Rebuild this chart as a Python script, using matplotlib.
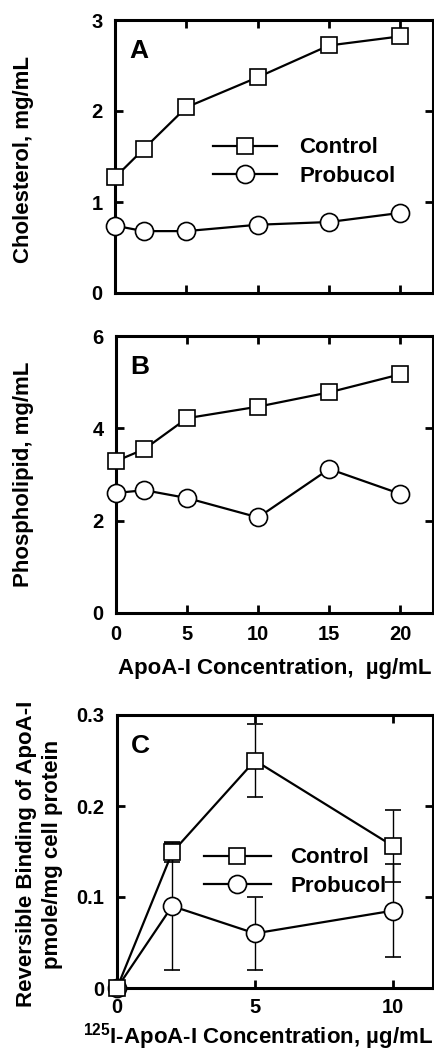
import matplotlib
matplotlib.use("Agg")
import matplotlib.pyplot as plt
from matplotlib.lines import Line2D

plt.rcParams['font.family'] = ['Liberation Sans', 'DejaVu Sans']
plt.rcParams['font.weight'] = 'bold'
plt.rcParams['mathtext.fontset'] = 'custom'
plt.rcParams['mathtext.rm'] = 'Liberation Sans:bold'

# panel A - cholesterol
conc_ab = [0, 2, 5, 10, 15, 20]
chol_control = [1.27, 1.58, 2.04, 2.37, 2.72, 2.82]
chol_probucol = [0.74, 0.68, 0.68, 0.75, 0.78, 0.88]

# panel B - phospholipid
pl_control = [3.29, 3.55, 4.22, 4.47, 4.78, 5.17]
pl_probucol = [2.60, 2.66, 2.49, 2.07, 3.12, 2.58]

# panel C - reversible binding
conc_c = [0, 2, 5, 10]
bind_control = [0.0, 0.149, 0.25, 0.156]
bind_control_err = [0.0, 0.01, 0.04, 0.04]
bind_probucol = [0.0, 0.09, 0.06, 0.085]
bind_probucol_err = [0.0, 0.07, 0.04, 0.051]

W, H = 435, 1052
fig = plt.figure(figsize=(W / 100, H / 100), dpi=100)


def box(left, top, right, bottom):
    return [left / W, 1 - bottom / H, (right - left) / W, (bottom - top) / H]


axA = fig.add_axes(box(115, 20, 433, 293))
axB = fig.add_axes(box(116, 336, 433, 613))
axC = fig.add_axes(box(117, 715, 433, 988))

lw = 1.6
ms = 12
sq = dict(marker='s', color='black', mfc='white', mec='black', mew=1.2, ms=ms, lw=lw)
ci = dict(marker='o', color='black', mfc='white', mec='black', mew=1.2, ms=ms + 1, lw=lw)

axA.plot(conc_ab, chol_probucol, zorder=3, clip_on=False, **ci)
axA.plot(conc_ab, chol_control, zorder=4, clip_on=False, **sq)
axB.plot(conc_ab, pl_probucol, zorder=3, clip_on=False, **ci)
axB.plot(conc_ab, pl_control, zorder=4, clip_on=False, **sq)

axC.errorbar(conc_c, bind_probucol, yerr=bind_probucol_err, capsize=5.5, elinewidth=1.0,
             capthick=1.0, ecolor='black', zorder=3, clip_on=False, **ci)
axC.errorbar(conc_c, bind_control, yerr=bind_control_err, capsize=5.5, elinewidth=1.0,
             capthick=1.0, ecolor='black', zorder=4, clip_on=False, **sq)

for ax in (axA, axB, axC):
    for s in ax.spines.values():
        s.set_linewidth(2.2)
    ax.tick_params(direction='in', length=6, width=2, top=True, right=True,
                   labelsize=14.5, pad=9)

axA.set_xlim(0, 22.3)
axA.set_ylim(0, 3)
axA.set_xticks([0, 5, 10, 15, 20])
axA.set_yticks([0, 1, 2, 3])
axA.set_yticklabels(['0', '1', '2', '3'])
axA.tick_params(labelbottom=False)
axA.set_ylabel('Cholesterol, mg/mL', fontsize=16, fontweight='bold')
axA.yaxis.set_label_coords(-0.255, 0.49)
axA.text(0.045, 0.93, 'A', transform=axA.transAxes, fontsize=19, fontweight='bold', va='top')

axB.set_xlim(0, 22.3)
axB.set_ylim(0, 6)
axB.set_xticks([0, 5, 10, 15, 20])
axB.set_xticklabels(['0', '5', '10', '15', '20'])
axB.set_yticks([0, 2, 4, 6])
axB.set_yticklabels(['0', '2', '4', '6'])
axB.set_ylabel('Phospholipid, mg/mL', fontsize=16, fontweight='bold')
axB.yaxis.set_label_coords(-0.259, 0.5)
axB.set_xlabel('ApoA-I Concentration,  \u00b5g/mL', fontsize=16, fontweight='bold', labelpad=10)
axB.text(0.045, 0.93, 'B', transform=axB.transAxes, fontsize=19, fontweight='bold', va='top')

axC.set_xlim(0, 11.45)
axC.set_ylim(0, 0.3)
axC.set_xticks([0, 5, 10])
axC.set_xticklabels(['0', '5', '10'])
axC.tick_params(axis='x', pad=7)
axC.set_yticks([0, 0.1, 0.2, 0.3])
axC.set_yticklabels(['0', '0.1', '0.2', '0.3'])
axC.set_ylabel('Reversible Binding of ApoA-I\npmole/mg cell protein', fontsize=16,
               fontweight='bold', linespacing=1.3)
axC.yaxis.set_label_coords(-0.171, 0.49)
axC.set_xlabel('$^{125}$I-ApoA-I Concentration, \u00b5g/mL', fontsize=16,
               fontweight='bold', ha='right')
axC.xaxis.set_label_coords(1.0, -0.12)
axC.text(0.045, 0.93, 'C', transform=axC.transAxes, fontsize=19, fontweight='bold', va='top')

handles = [Line2D([], [], **sq), Line2D([], [], **ci)]
axA.legend(handles, ['Control', 'Probucol'], loc='upper left', bbox_to_anchor=(0.308, 0.57),
           frameon=False, borderpad=0, borderaxespad=0, handlelength=2.9, handletextpad=1.0,
           labelspacing=0.35, prop={'weight': 'bold', 'size': 16})
axC.legend(handles, ['Control', 'Probucol'], loc='upper left', bbox_to_anchor=(0.275, 0.515),
           frameon=False, borderpad=0, borderaxespad=0, handlelength=3.0, handletextpad=0.9,
           labelspacing=0.35, prop={'weight': 'bold', 'size': 16})

fig.savefig('out.png', dpi=100)
